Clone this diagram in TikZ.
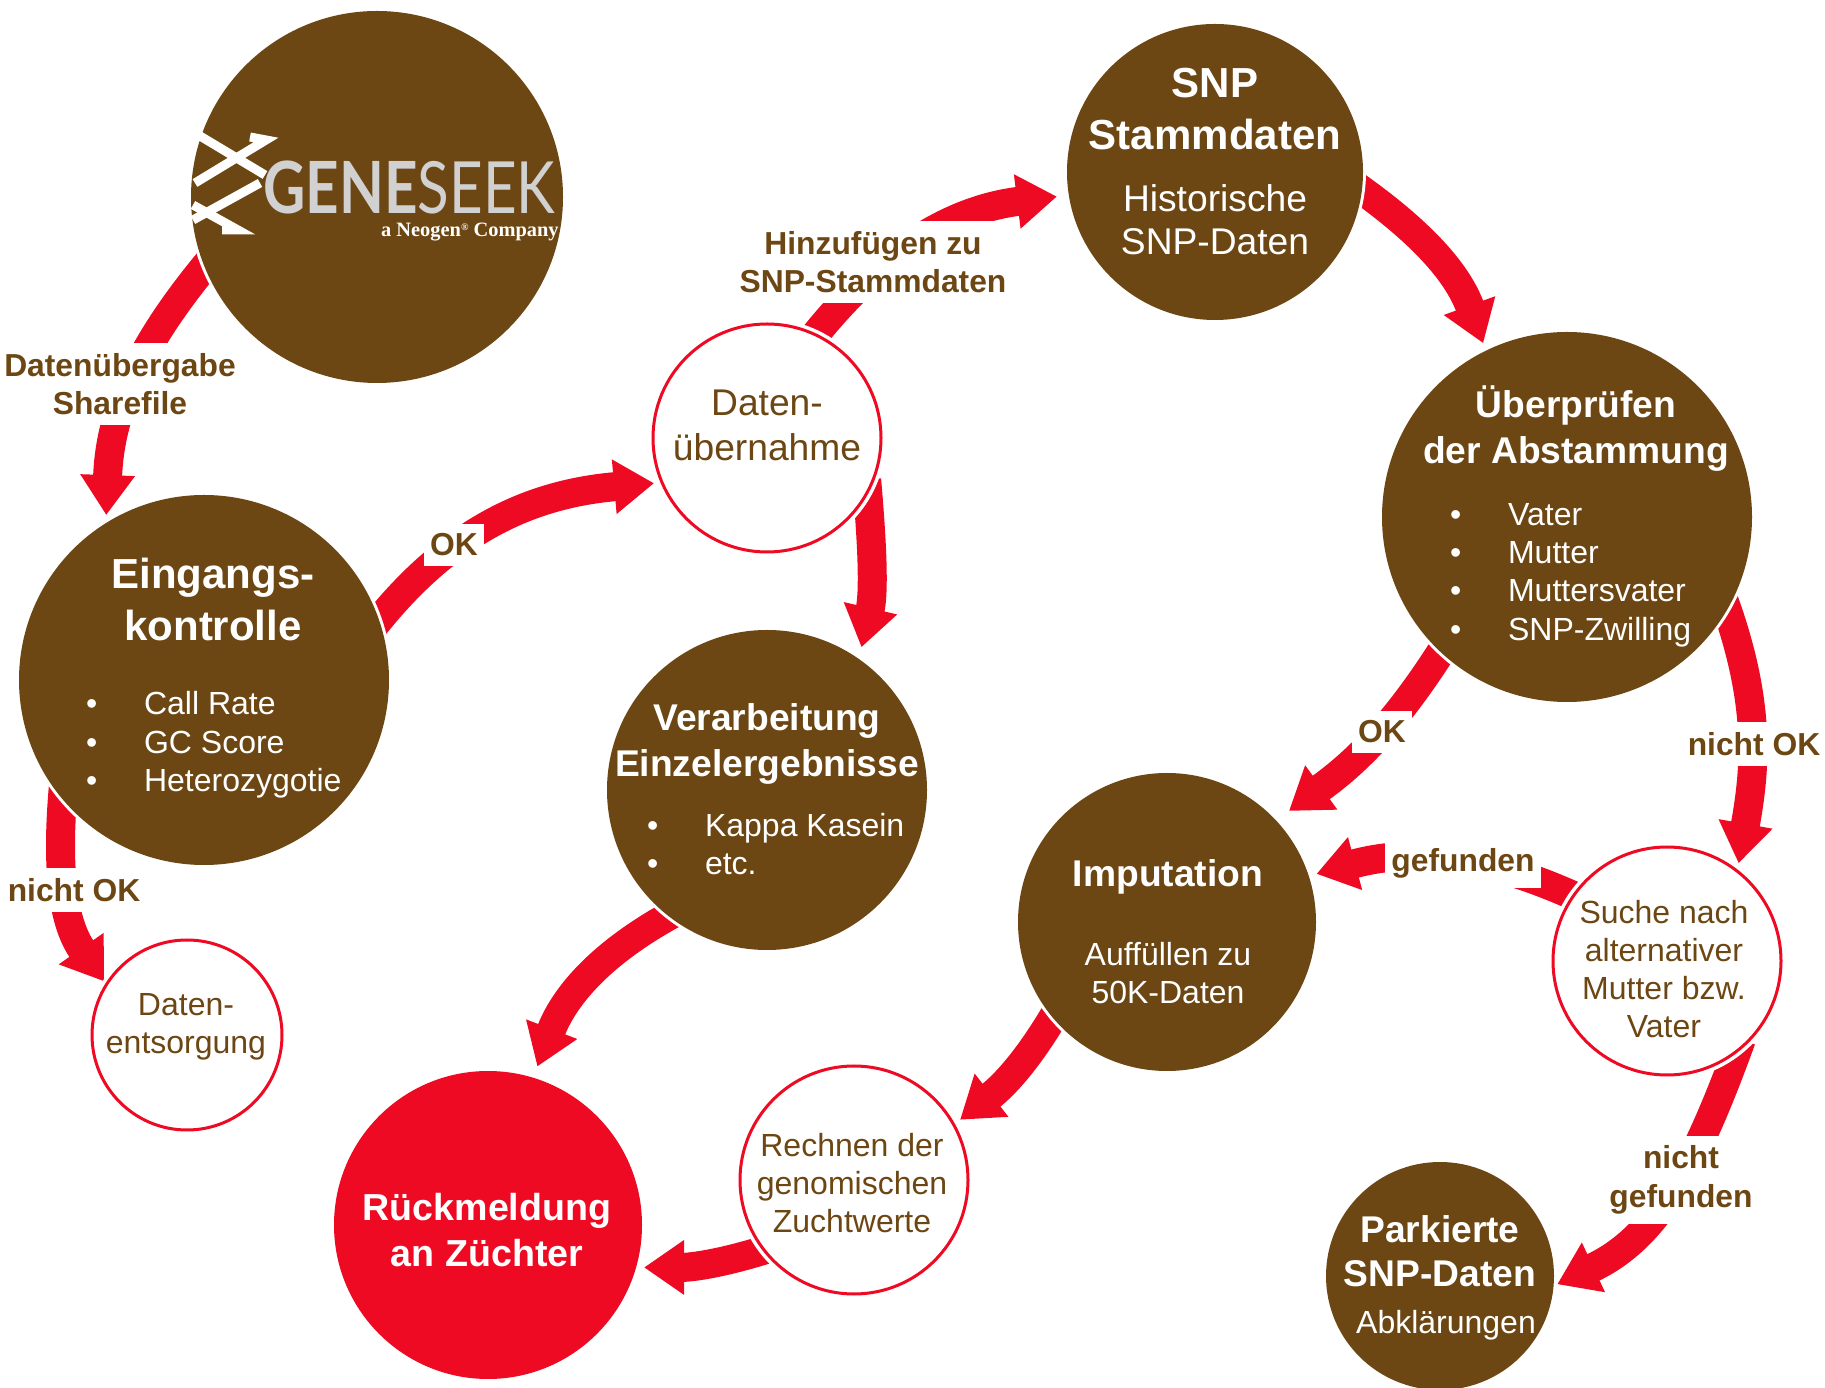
\documentclass[tikz,border=0pt]{standalone}
\usepackage{fontspec}
\setmainfont{Liberation Sans}
\newfontfamily\logofont{Lato}
\newfontfamily\logoserif{Liberation Serif}
\usepackage{xcolor}
\usetikzlibrary{arrows.meta,backgrounds}
\definecolor{hofbraun}{HTML}{6D4713}
\definecolor{hofrot}{HTML}{EE0A23}
\newcommand{\fsz}[2]{\fontsize{#1}{#2}\selectfont}
\newcommand{\bul}{\makebox[29pt][l]{\textbullet}}
\tikzset{
  fullring/.style={circle,fill=hofbraun,preaction={draw=white,line width=3pt},inner sep=0pt,outer sep=0pt,minimum size=#1},
  redring/.style={circle,fill=hofrot,preaction={draw=white,line width=3pt},inner sep=0pt,outer sep=0pt,minimum size=#1},
  openring/.style={circle,draw=hofrot,line width=1.5pt,fill=white,preaction={draw=white,line width=5pt},inner sep=0pt,outer sep=0pt,minimum size=#1},
  flowline/.style={draw=hofrot,line width=14.5pt,shorten <=-6pt,shorten >=4pt,-{Triangle[length=20pt,width=26pt]}},
  bighead/.style={text=white,align=center,font=\fsz{21}{26}\bfseries},
  headtext/.style={text=white,align=center,font=\fsz{18.6}{23}\bfseries},
  subtext/.style={text=white,align=center,font=\fsz{16}{19}},
  listtext/.style={text=white,align=left,font=\fsz{16}{19.2}},
  ringtext/.style={text=hofbraun,align=center,font=\fsz{16}{19}},
  linklabel/.style={text=hofbraun,fill=white,align=center,inner xsep=3pt,inner ysep=5pt,font=\fsz{15.9}{19.2}\bfseries},
  helix/.style={draw=white,line width=4.5pt},
}
\begin{document}
\begin{tikzpicture}[x=0.5pt,y=0.5pt]
\useasboundingbox (0,2) rectangle (1825,1389);

    % rings
    \node[fullring=186pt] (geneseek) at (377,1192) {};
    \node[fullring=148pt] (snp) at (1215,1217) {};
    \node[fullring=185pt] (abstammung) at (1567,872) {};
    \node[fullring=185pt] (eingang) at (204,709) {};
    \node[openring=114pt] (uebernahme) at (767,951) {};
    \node[fullring=160pt] (verarbeitung) at (767,599) {};
    \node[fullring=149pt] (imputation) at (1167,467) {};
    \node[openring=114pt] (suche) at (1667,428) {};
    \node[openring=95pt] (entsorgung) at (187,354) {};
    \node[redring=154pt] (rueckmeldung) at (488,164) {};
    \node[openring=114pt] (rechnen) at (854,209) {};
    \node[fullring=114pt] (parkiert) at (1440,113) {};

    % logo
    \draw[helix] (190,1259) -- (265,1214);
    \draw[helix] (250,1252) -- (266,1249) -- (195,1206);
    \draw[helix] (260,1206) -- (193,1169);
    \draw[helix] (193,1184) -- (238,1159) -- (222,1159);
    \node[anchor=base west,text=black!18,xscale=0.81,transform shape,inner sep=0pt,text depth=0pt,font=\logofont\fsz{36}{36}]
        (logoname) at (263,1175) {\textbf{GENE}SEEK};
    \node[anchor=east,text=white,inner sep=0pt,font=\logoserif\fsz{10.2}{12}\bfseries]
        (logosub) at (559,1157) {a Neogen\raisebox{3pt}{\fsz{5}{5}®} Company};

    % connectors
    \begin{scope}[on background layer]
    \draw[flowline] (geneseek.202) to[out=230,in=88] (eingang.122);
    \draw[flowline] (eingang.19) to[out=52,in=185] (uebernahme.203);
    \draw[flowline,shorten >=6pt] (uebernahme.65) to[out=52,in=187] (snp.189);
    \draw[flowline,shorten >=6pt] (uebernahme.-28) to[out=-85,in=77] (verarbeitung.55);
    \draw[flowline] (snp.-7) to[out=-35,in=110] (abstammung.116);
    \draw[flowline,shorten >=8pt] (abstammung.227) to[out=238,in=36] (imputation.43);
    \draw[flowline] (abstammung.-30) to[out=-70,in=80] (suche.52);
    \draw[flowline] (suche.145) to[out=155,in=15] (imputation.18);
    \draw[flowline,shorten >=2pt] (suche.-52) to[out=250,in=25] (parkiert.-5);
    \draw[flowline] (imputation.220) to[out=240,in=38] (rechnen.29);
    \draw[flowline] (rechnen.218) to[out=198,in=0] (rueckmeldung.-16);
    \draw[flowline,shorten >=6pt] (verarbeitung.232) to[out=208,in=69] (rueckmeldung.73);
    \draw[flowline,shorten >=2pt] (eingang.220) to[out=-95,in=125] (entsorgung.148);
    \end{scope}

    % connector labels
    \node[linklabel] (lsharefile) at (120,1005) {Datenübergabe\\Sharefile};
    \node[linklabel] (lokeingang) at (454,844) {OK};
    \node[linklabel] (lhinzu) at (873,1127) {Hinzufügen zu\\SNP-Stammdaten};
    \node[linklabel] (lokabst) at (1382,657) {OK};
    \node[linklabel] (lnichtabst) at (1754,645) {nicht OK};
    \node[linklabel] (lgefunden) at (1463,526) {gefunden};
    \node[linklabel] (lnichtgef) at (1681,209) {nicht\\gefunden};
    \node[linklabel] (lnichteing) at (74,499) {nicht OK};

    % texts in the rings
    \node[bighead] (snphead) at (1215,1280) {SNP\\Stammdaten};
    \node[text=white,align=center,font=\fsz{18.6}{21.5}] (snpsub) at (1215,1169) {Historische\\SNP-Daten};

    \node[headtext] (abshead) at (1576,960) {Überprüfen\\der Abstammung};
    \node[listtext,anchor=west] (abslist) at (1443,814) {\bul Vater\\\bul Mutter\\\bul Muttersvater\\\bul SNP-Zwilling};

    \node[bighead] (einghead) at (213,790) {Eingangs-\\kontrolle};
    \node[listtext,anchor=west] (einglist) at (79,644) {\bul Call Rate\\\bul GC Score\\\bul Heterozygotie};

    \node[text=hofbraun,align=center,font=\fsz{18.6}{22.5}] (uebertext) at (767,964) {Daten-\\übernahme};

    \node[headtext] (verhead) at (767,645) {Verarbeitung\\Einzelergebnisse};
    \node[listtext,anchor=west] (verlist) at (640,545) {\bul Kappa Kasein\\\bul etc.};

    \node[headtext] (imphead) at (1168,512) {Imputation};
    \node[subtext] (impsub) at (1168,416) {Auffüllen zu\\50K-Daten};

    \node[ringtext] (suchetext) at (1664,420) {Suche nach\\alternativer\\Mutter bzw.\\Vater};
    \node[ringtext] (entsorgtext) at (186,362) {Daten-\\entsorgung};
    \node[text=white,align=center,font=\fsz{18.8}{22.7}\bfseries] (ruecktext) at (487,159) {Rückmeldung\\an Züchter};
    \node[ringtext] (rechnentext) at (852,206) {Rechnen der\\genomischen\\Zuchtwerte};

    \node[text=white,align=center,font=\fsz{18.6}{22}\bfseries] (parkhead) at (1440,138) {Parkierte\\SNP-Daten};
    \node[subtext] (parksub) at (1446,64) {Abklärungen};
\end{tikzpicture}
\end{document}
